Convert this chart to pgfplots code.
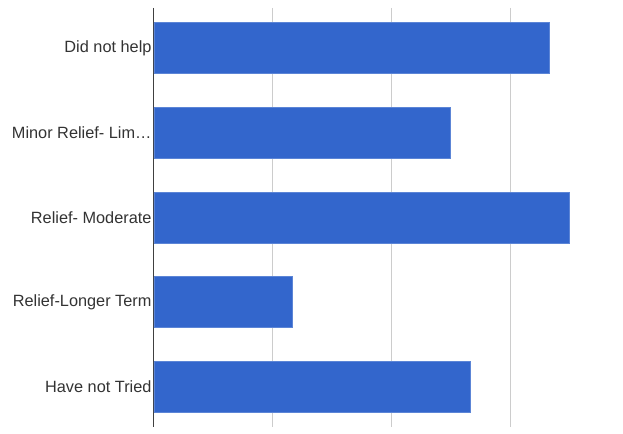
\documentclass[border=0pt]{standalone}
\usepackage{pgfplots}
\pgfplotsset{compat=1.18}
\usepackage{fontspec}
\setmainfont{Liberation Sans}
\definecolor{barblue}{HTML}{3366CC}
\definecolor{baredge}{HTML}{5C85D6}
\definecolor{gridgray}{HTML}{CCCCCC}
\definecolor{txt}{HTML}{333333}
\begin{document}
\begin{tikzpicture}[x=1pt,y=1pt]
\begin{axis}[
  name=ax,
  scale only axis,
  width=469pt, height=419pt,
  xbar, bar width=51pt,
  xmin=0, xmax=23.7,
  ymin=-0.47, ymax=4.47,
  y dir=reverse,
  ytick={0,1,2,3,4},
  yticklabels={Did not help, {Minor Relief- Lim\ldots}, Relief- Moderate, Relief-Longer Term, Have not Tried},
  yticklabel style={font=\fontsize{16.3}{18}\selectfont, text=txt, xshift=1pt},
  y tick label style={anchor=east},
  xtick={0,6,12,18,24},
  xticklabels={},
  xmajorgrids, grid style={gridgray, line width=1pt},
  major tick length=0pt,
  axis lines*=left,
  x axis line style={draw=none},
  y axis line style={draw=black!75, line width=1pt, -},
  axis line style={-},
  clip=false,
]
\addplot[fill=barblue, draw=baredge, line width=0.8pt] coordinates {(20,0) (15,1) (21,2) (7,3) (16,4)};
\end{axis}
\path ([xshift=-154pt]ax.south west) rectangle ([yshift=8pt]ax.north east);
\end{tikzpicture}
\end{document}
